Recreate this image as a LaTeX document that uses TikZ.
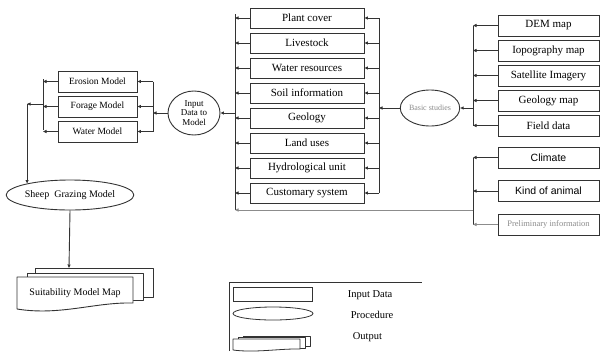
\documentclass[tikz,border=0pt]{standalone}
\usepackage{fontspec}
\setmainfont{Liberation Serif}
\newfontfamily\arialf{Liberation Sans}
\usetikzlibrary{shapes.geometric,arrows.meta}
\begin{document}
\begin{tikzpicture}[x=1pt,y=-1pt,
  line width=0.9pt,
  ink/.style={draw=black!80},
  databox/.style={ink,rectangle,inner sep=0pt,fill=white},
  midbox/.style={databox,minimum width=114pt,minimum height=20pt,font=\fontsize{11}{12}\selectfont},
  srcbox/.style={databox,minimum width=101pt,minimum height=21pt,font=\fontsize{11}{12}\selectfont},
  modbox/.style={databox,minimum width=79pt,minimum height=21pt,font=\fontsize{9.5}{11}\selectfont},
  proc/.style={ink,ellipse,inner sep=0pt,fill=white},
  arr/.style={draw=black!80,-{Triangle[length=3.5pt,width=3pt]}},
  lin/.style={draw=black!80},
  sheet/.style={draw=black!80,fill=white,line join=round}]
\useasboundingbox (0,0) rectangle (601,351);

% --- data themes feeding the model ---
\foreach \t [count=\i from 0] in {Plant cover,Livestock,Water resources,Soil information,Geology,Land uses,Hydrological unit,Customary system}
  \node[midbox] (m\i) at (307,{18+25*\i}) {\t};

% --- sources of the basic studies ---
\node[srcbox] (s0) at (548.5,25.5) {DEM map};
\node[srcbox] (s1) at (548.5,50.5) {Iopography map};
\node[srcbox] (s2) at (548.5,75.5) {Satellite Imagery};
\node[srcbox] (s3) at (548.5,100.5) {Geology map};
\node[srcbox] (s4) at (548.5,125.5) {Field data};
\node[srcbox] (p0) at (548.5,157.5) {\arialf\fontsize{10.5}{12}\selectfont Climate};
\node[srcbox] (p1) at (548.5,191) {\arialf\fontsize{10.5}{12}\selectfont Kind of animal};
\node[srcbox,text=black!45] (p2) at (548.5,224.5) {\fontsize{8.5}{10}\selectfont Preliminary information};

% --- procedures ---
\node[proc,minimum width=55pt,minimum height=36pt,text=black!45,font=\fontsize{8}{9}\selectfont] (basic) at (430,108) {Basic studies};
\node[proc,minimum width=52pt,minimum height=44pt,font=\fontsize{9}{9.5}\selectfont,align=center] (input) at (194,113) {Input\\Data to\\Model};
\node[proc,minimum width=125pt,minimum height=30pt,font=\fontsize{10}{12}\selectfont] (sheep) at (70,195) {Sheep\ \ Grazing Model};

% --- sub-models ---
\node[modbox] (e0) at (97.5,81.5) {Erosion Model};
\node[modbox] (e1) at (97.5,106.5) {Forage Model};
\node[modbox] (e2) at (97.5,131.5) {Water Model};

% --- bus coordinates ---
\coordinate (mlt) at (235,14);
\coordinate (mlb) at (235,210);
\coordinate (mrt) at (379,18);
\coordinate (mrb) at (379,193);
\coordinate (rtt) at (473,25.5);
\coordinate (rtb) at (473,125.5);
\coordinate (rlt) at (473,157.5);
\coordinate (rlb) at (473,224.5);
\coordinate (rlj) at (473,210);
\coordinate (mbt) at (153,81.5);
\coordinate (mbb) at (153,131.5);
\coordinate (lbt) at (43,79);
\coordinate (lbb) at (43,130);
\coordinate (lbj) at (43,104);
\coordinate (turn) at (sheep.165 |- lbj);
\coordinate (docTop) at (69,268);

% middle column buses
\draw[lin] (mlt) -- (mlb);
\draw[lin] (mrt) -- (mrb);
\foreach \i in {0,...,7} {
  \draw[arr] (m\i.west) -- (m\i.west -| mlt);
  \draw[arr] (m\i.east -| mrt) -- (m\i.east);
}
\draw[arr] (input.east -| mlt) -- (input.east);

% basic studies inputs
\draw[lin] (rtt) -- (rtb);
\foreach \i in {0,...,4}
  \draw[arr] (s\i.west) -- (s\i.west -| rtt);
\draw[arr] (basic.east -| rtt) -- (basic.east);
\draw[arr] (basic.west) -- (basic.west -| mrt);

% preliminary information bus
\draw[lin] (rlt) -- (rlb);
\draw[arr] (p0.west) -- (p0.west -| rlt);
\draw[arr] (p1.west) -- (p1.west -| rlt);
\draw[arr,draw=black!45] (p2.west) -- (p2.west -| rlt);
\draw[arr,draw=black!45] (rlj) -- (mlb);

% model buses
\draw[lin] (mbt) -- (mbb);
\draw[arr] (input.west) -- (input.west -| mbt);
\foreach \i in {0,1,2}
  \draw[arr] (e\i.east -| mbt) -- (e\i.east);
\draw[lin] (lbt) -- (lbb);
\foreach \i in {0,1,2}
  \draw[arr] (e\i.west) -- (e\i.west -| lbt);
\draw[arr] (lbj) -- (turn);
\draw[arr] (turn) -- (sheep.165);
\draw[arr] (sheep.south) -- (docTop);

% --- output: stacked map sheets ---
\draw[sheet] (35,268) -- (153,268) -- (153,297) -- (35,297) -- cycle;
\draw[sheet] (27,273) -- (143,273) -- (143,300) -- (27,300) -- cycle;
\draw[sheet] (17,277) -- (133,277) -- (133,303)
  .. controls (95,302) and (60,316) .. (17,309) -- cycle;
\node[font=\fontsize{10}{12}\selectfont] (suit) at (75,293) {Suitability Model Map};

% --- legend ---
\coordinate (lgA) at (229,351);
\coordinate (lgB) at (229,282);
\coordinate (lgC) at (422,282);
\draw[lin,line width=0.7pt] (lgA) -- (lgB) -- (lgC);
\node[databox,minimum width=79pt,minimum height=14pt,line width=0.8pt] (lgRect) at (272.5,294) {};
\node[proc,minimum width=80pt,minimum height=13pt,line width=0.8pt] (lgEll) at (273,313.5) {};
\draw[sheet,line width=0.8pt] (243,336) -- (310,336) -- (310,346) -- (243,346) -- cycle;
\draw[sheet,line width=0.8pt] (238,337.5) -- (305,337.5) -- (305,348) -- (238,348) -- cycle;
\draw[sheet,line width=0.8pt] (233,339) -- (300,339) -- (300,349)
  .. controls (280,348.5) and (255,353) .. (233,350) -- cycle;
\node[anchor=west,font=\fontsize{10.5}{12}\selectfont] (lgT1) at (344,295) {Input Data};
\node[anchor=west,font=\fontsize{10.5}{12}\selectfont] (lgT2) at (347,315) {Procedure};
\node[anchor=west,font=\fontsize{10.5}{12}\selectfont] (lgT3) at (349,337) {Output};
\end{tikzpicture}
\end{document}
